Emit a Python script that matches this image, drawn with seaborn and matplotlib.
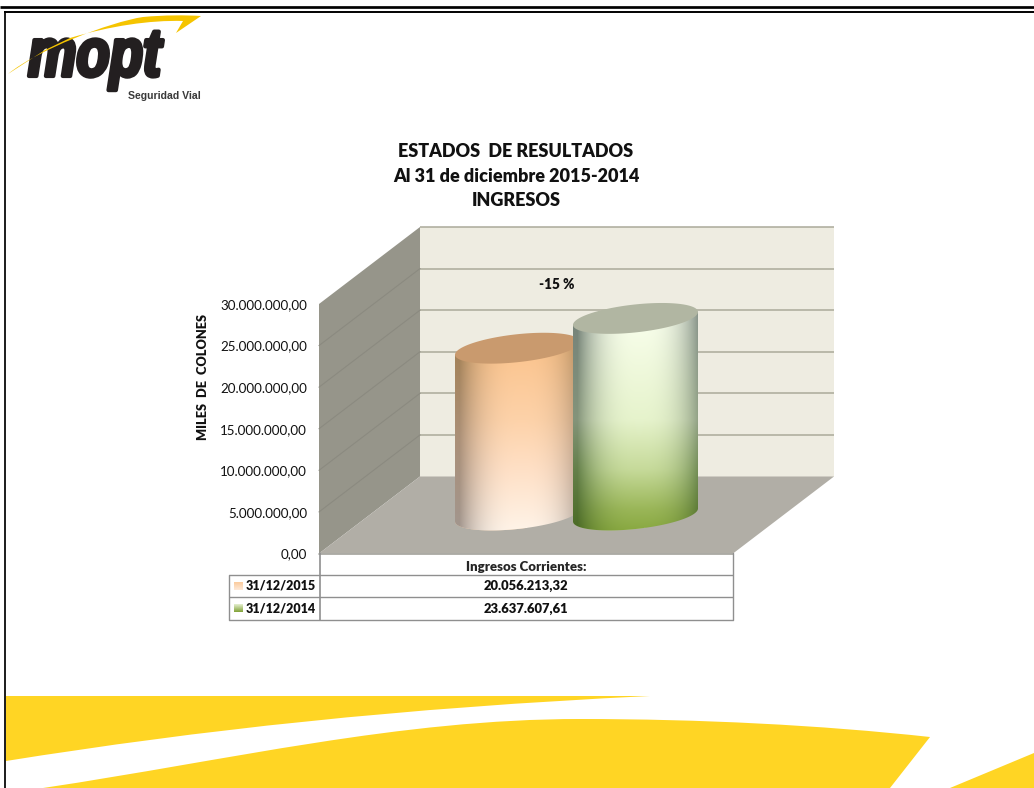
import numpy as np
import pandas as pd
import seaborn as sns
import matplotlib.pyplot as plt
import matplotlib.patheffects as pe
from matplotlib.path import Path
from matplotlib.patches import PathPatch, Polygon
from matplotlib.colors import to_rgb
from matplotlib.transforms import Affine2D

# values
category = "Ingresos Corrientes:"
series_names = ["31/12/2015", "31/12/2014"]
series_values = [20056213.32, 23637607.61]
value_labels = ["20.056.213,32", "23.637.607,61"]
y_ticks = [0, 5000000, 10000000, 15000000, 20000000, 25000000, 30000000]
y_tick_labels = ["0,00", "5.000.000,00", "10.000.000,00", "15.000.000,00",
                 "20.000.000,00", "25.000.000,00", "30.000.000,00"]
title_lines = ["ESTADOS  DE RESULTADOS", "Al 31 de diciembre 2015-2014", "INGRESOS"]
change_label = "-15 %"

W, H = 1034, 788
YELLOW = "#FFD524"
DEPTH = (101, 77)  # oblique offset of the back wall, px

sns.set_theme(style="white")
plt.rcParams["font.family"] = ["Lato", "DejaVu Sans"]

fig = plt.figure(figsize=(W / 100, H / 100), dpi=100, facecolor="white")


def pixel_axes(z):
    a = fig.add_axes([0, 0, 1, 1], zorder=z)
    a.set_xlim(0, W)
    a.set_ylim(H, 0)
    a.axis("off")
    return a


deco = pixel_axes(0)
over = pixel_axes(2)

# front plane of the 3d box carries the value scale
ax = fig.add_axes([319 / W, (H - 553.5) / H, 414 / W, 249.5 / H], zorder=1)
ax.patch.set_alpha(0)
df = pd.DataFrame({"cat": [category] * 2, "serie": series_names, "valor": series_values})
sns.barplot(data=df, x="cat", y="valor", hue="serie", hue_order=series_names,
            palette=["#FBD1A8", "#C1D596"], width=0.57, legend=False, ax=ax)
ax.set_xlim(-0.5, 0.5)
ax.set_ylim(0, 30000000)
ax.set_yticks(y_ticks, y_tick_labels)
ax.tick_params(axis="y", length=0, pad=8.5, labelsize=9.6, labelcolor="#111111")
ax.tick_params(axis="x", length=0, pad=5.2, labelsize=9.5)
for lab in ax.get_xticklabels():
    lab.set_fontweight("heavy")
ax.set_xlabel("")
ax.set_ylabel("MILES  DE  COLONES", fontsize=9.2, fontweight="heavy", color="#111111")
ax.yaxis.set_label_coords(-110 / 414, (553.5 - 377.5) / 249.5)
sns.despine(ax=ax, left=True, bottom=True)


def to_px(x, v):
    px, py = ax.transData.transform((x, v))
    return px, H - py


x0, x1 = ax.get_xlim()
(fx0, fy0), (fx1, fy_top) = to_px(x0, 0), to_px(x1, 30000000)
bx0, bx1 = fx0 + DEPTH[0], fx1 + DEPTH[0]
by0, by_top = fy0 - DEPTH[1], fy_top - DEPTH[1]

# walls and floor
deco.add_patch(Polygon([(bx0, by_top), (bx1, by_top), (bx1, by0), (bx0, by0)], fc="#EEECE1", ec="none"))
deco.add_patch(Polygon([(fx0, fy_top), (bx0, by_top), (bx0, by0), (fx0, fy0)], fc="#96958A", ec="none"))
deco.add_patch(Polygon([(fx0, fy0), (fx1, fy0), (bx1, by0), (bx0, by0)], fc="#B1AEA6", ec="none"))
for v in y_ticks[1:]:
    _, fy = to_px(x0, v)
    deco.plot([bx0, bx1], [fy - DEPTH[1]] * 2, color="#ABAA9A", lw=1.1, solid_capstyle="butt")
    if v < y_ticks[-1]:
        deco.plot([fx0, bx0], [fy, fy - DEPTH[1]], color="#8B8A80", lw=0.8)
deco.plot([fx0, fx1], [fy0, fy0], color="#A3A29B", lw=1.2)


def ramp(stops, t):
    pos = [s[0] for s in stops]
    return np.stack([np.interp(t, pos, [to_rgb(s[1])[i] for s in stops]) for i in range(3)], axis=-1)


def cylinder(bar, radius, top_color, body, rim, z):
    # bar comes from seaborn; sit it halfway into the box depth
    cx_front = bar.get_x() + bar.get_width() / 2
    px, base = to_px(cx_front, 0)
    _, top = to_px(cx_front, bar.get_height())
    cx, base, top = px + DEPTH[0] / 2, base - DEPTH[1] / 2, top - DEPTH[1] / 2
    tilt, minor = 6.5, 14.0

    t = np.linspace(0, np.pi, 60)
    bottom_x = cx - radius * np.cos(t)
    bottom_y = base + tilt * np.cos(t) + minor * np.sin(t)
    top_x = cx + radius * np.cos(t)
    top_y = top - tilt * np.cos(t)
    outline = np.column_stack([np.r_[bottom_x, top_x], np.r_[bottom_y, top_y]])
    clip = Polygon(outline, transform=over.transData, fc="none", ec="none")
    over.add_patch(clip)

    # lit in the middle, dark towards both rims
    xs = np.arange(cx - radius, cx + radius + 1)
    ys = np.arange(top - 20, base + 22)
    u, v = np.meshgrid((xs - cx - 4) / radius, ys)
    col = ramp(body, v)
    edge = ramp(rim, v)
    k = np.clip(np.abs(u), 0, 1)[..., None] ** 2.8
    img = col * (1 - k) + edge * k
    im = over.imshow(np.clip(img, 0, 1), extent=(xs[0], xs[-1], ys[-1], ys[0]), aspect="auto",
                     interpolation="bilinear", zorder=z)
    im.set_clip_path(clip)

    # the seaborn bar itself stays under the shading, cut to the same outline
    bar.set_clip_path(Path(outline), over.transData)
    bar.set_clip_on(True)

    t = np.linspace(0, 2 * np.pi, 120)
    cap = np.column_stack([cx + radius * np.cos(t), top - tilt * np.cos(t) + minor * np.sin(t)])
    over.add_patch(Polygon(cap, fc=top_color, ec="none", zorder=z + 0.1))


orange_body = [(350, "#FBC48E"), (420, "#FDD2A9"), (470, "#FFE0C6"), (530, "#FFF3E7")]
orange_rim = [(350, "#A48258"), (440, "#AB9078"), (530, "#A2968E")]
green_body = [(320, "#F8FEEB"), (420, "#E6F3CC"), (470, "#C6DA9A"), (510, "#9AB658"), (532, "#88A840")]
green_rim = [(320, "#76837A"), (420, "#84947A"), (470, "#64804A"), (532, "#4A6A24")]

bars = ax.containers
cylinder(bars[0][0], 62.5, "#C99A6E", orange_body, orange_rim, 3)
cylinder(bars[1][0], 62.5, "#B1B6A2", green_body, green_rim, 4)

# texts
for line, y in zip(title_lines, [151, 176, 200]):
    deco.text(516, y, line, ha="center", va="center", fontsize=13, fontweight="heavy", color="#111111")
deco.text(557, 284, change_label, ha="center", va="center", fontsize=9.8, fontweight="heavy", color="#111111")

# data table under the chart
GRID = "#8F8F8F"
for y in [575, 597, 620]:
    deco.plot([229, 733], [y, y], color=GRID, lw=1, solid_capstyle="butt")
deco.plot([229, 229], [575, 620], color=GRID, lw=1)
deco.plot([320, 320], [553, 620], color=GRID, lw=1.2)
deco.plot([733, 733], [553, 620], color=GRID, lw=1)
key_colors = [["#FBCDA0", "#FEE8D6"], ["#E0ECC8", "#86A63F"]]
for name, val, y, kc in zip(series_names, value_labels, [586, 608.5], key_colors):
    deco.text(246, y, name, ha="left", va="center", fontsize=9, fontweight="heavy", color="#111111")
    deco.text(526, y, val, ha="center", va="center", fontsize=9.4, fontweight="heavy", color="#111111")
    grad = ramp([(0, kc[0]), (1, kc[1])], np.linspace(0, 1, 8))[:, None, :]
    deco.imshow(grad, extent=(234, 243, y + 4, y - 4), aspect="auto")


# logo lettering is a heavy condensed italic, no such font here, so squeeze the real text
class Squeeze(pe.AbstractPathEffect):
    def __init__(self, origin, sx, width):
        super().__init__()
        self.origin, self.sx, self.width = origin, sx, width

    def draw_path(self, renderer, gc, tpath, affine, rgbFace=None):
        squeezed = affine + Affine2D().translate(-self.origin, 0).scale(self.sx, 1).translate(self.origin, 0)
        gc0 = renderer.new_gc()
        gc0.copy_properties(gc)
        gc0.set_linewidth(self.width)
        gc0.set_foreground(rgbFace)
        renderer.draw_path(gc0, tpath, squeezed, rgbFace)
        gc0.restore()


deco.text(28, 76, "mopt", fontsize=49, family="Liberation Sans", fontweight="bold", style="italic",
          color="#231F20", va="baseline", ha="left", path_effects=[Squeeze(28, 0.8, 3.0)])
deco.text(201, 96, "Seguridad Vial", fontsize=7.6, family="Liberation Sans", fontweight="bold",
          color="#3A3A3A", ha="right", va="center")
swoosh = Path([(8, 74), (37, 50), (110, 22), (143, 17), (165, 15), (185, 15), (201, 16),
               (176, 33), (183, 21), (150, 20), (110, 26), (70, 38), (45, 50), (8, 74), (8, 74)],
              [Path.MOVETO, Path.CURVE4, Path.CURVE4, Path.CURVE4, Path.CURVE4, Path.CURVE4, Path.CURVE4,
               Path.LINETO, Path.LINETO, Path.CURVE4, Path.CURVE4, Path.LINETO, Path.LINETO, Path.LINETO,
               Path.CLOSEPOLY])
over.add_patch(PathPatch(swoosh, fc="#F5C400", ec="none"))

# yellow band at the foot
band_a = Path([(6, 696), (650, 696), (400, 708), (200, 730), (6, 761), (6, 696)],
              [Path.MOVETO, Path.LINETO, Path.CURVE4, Path.CURVE4, Path.CURVE4, Path.CLOSEPOLY])
band_b = Path([(43, 788), (230, 760), (400, 719), (580, 719), (700, 719), (820, 725), (930, 737),
               (890, 788), (43, 788)],
              [Path.MOVETO, Path.CURVE4, Path.CURVE4, Path.CURVE4, Path.CURVE4, Path.CURVE4, Path.CURVE4,
               Path.LINETO, Path.CLOSEPOLY])
band_c = Path([(950, 788), (1034, 753), (1034, 788), (950, 788)],
              [Path.MOVETO, Path.LINETO, Path.LINETO, Path.CLOSEPOLY])
for band in [band_a, band_b, band_c]:
    deco.add_patch(PathPatch(band, fc=YELLOW, ec="none"))

# slide frame
deco.plot([0, W], [7.3, 7.3], color="black", lw=1.95, solid_capstyle="butt")
deco.plot([4.3, W], [12, 12], color="black", lw=1.4, solid_capstyle="butt")
deco.plot([5.2, 5.2], [11, H], color="black", lw=1.25, solid_capstyle="butt")

deco.set_xlim(0, W)
deco.set_ylim(H, 0)
over.set_xlim(0, W)
over.set_ylim(H, 0)

fig.savefig("out.png", dpi=100)
